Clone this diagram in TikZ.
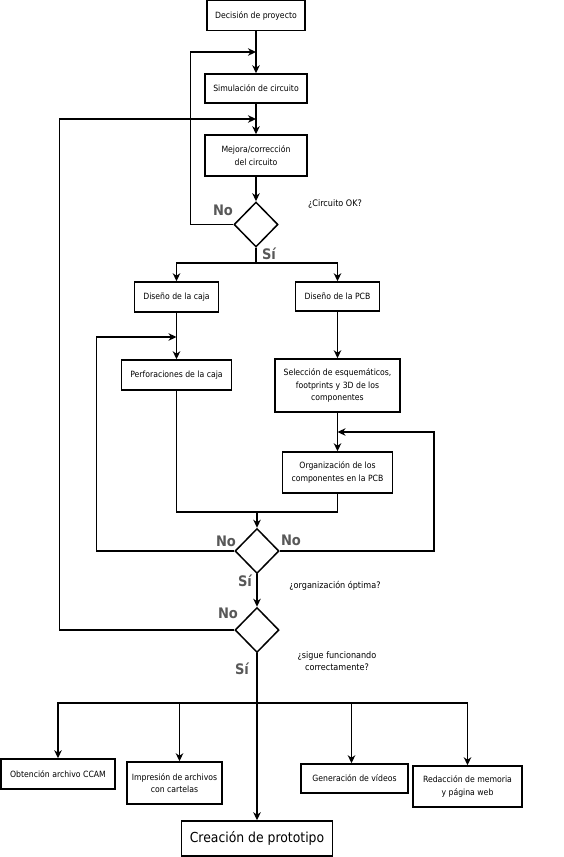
\documentclass[tikz,border=0pt]{standalone}
\usepackage{fontspec}
\setmainfont{DejaVu Sans Condensed}
\usetikzlibrary{shapes,arrows.meta}
\definecolor{grisetiq}{RGB}{88,88,88}
\tikzstyle{every picture}=[x=1pt, y=-1pt, >={Stealth[length=8pt,width=7.5pt,inset=2.5pt]}, line width=1.5pt]
\tikzstyle{caja}=[draw, rectangle, align=center, inner sep=2pt,%
	font=\fontsize{8.6}{12.3}\selectfont]
\tikzstyle{rombo}=[draw, diamond, inner sep=0pt, minimum width=44pt, minimum height=45pt]
\tikzstyle{sino}=[text=grisetiq, inner sep=0pt, font=\bfseries\fontsize{14.5}{14.5}\selectfont]
\tikzstyle{pregunta}=[align=center, inner sep=0pt, font=\fontsize{9}{12.5}\selectfont]

\begin{document}
\begin{tikzpicture}
	\useasboundingbox (0,0) rectangle (563,857);
	% columna principal
	\node[caja, minimum width=98pt, minimum height=30pt] (decision) at (256,15.5) {Decisión de proyecto};
	\node[caja, minimum width=102pt, minimum height=29pt] (simulacion) at (256,88.5) {Simulación de circuito};
	\node[caja, minimum width=102pt, minimum height=41pt] (mejora) at (256,155.5) {Mejora/corrección\\del circuito};
	\node[rombo] (d1) at (256,224.5) {};
	% ramas caja y PCB
	\node[caja, minimum width=84pt, minimum height=30pt] (cajadis) at (176.5,297) {Diseño de la caja};
	\node[caja, minimum width=84pt, minimum height=29pt] (pcbdis) at (337.5,296.5) {Diseño de la PCB};
	\node[caja, minimum width=110pt, minimum height=30pt] (perf) at (176.5,375) {Perforaciones de la caja};
	\node[caja, minimum width=125pt, minimum height=53pt] (sel) at (337.5,385.5) {Selección de esquemáticos,\\footprints y 3D de los\\componentes};
	\node[caja, minimum width=110pt, minimum height=41pt] (org) at (337.5,472.5) {Organización de los\\componentes en la PCB};
	\node[rombo] (d2) at (257,551) {};
	\node[rombo] (d3) at (257,630) {};
	% tareas finales
	\node[caja, minimum width=114pt, minimum height=30pt] (obtencion) at (58,774) {Obtención archivo CCAM};
	\node[caja, minimum width=95pt, minimum height=42pt] (impresion) at (174.5,783) {Impresión de archivos\\con cartelas};
	\node[caja, minimum width=107pt, minimum height=29pt] (videos) at (354.5,778.5) {Generación de vídeos};
	\node[caja, minimum width=109pt, minimum height=41pt] (memoria) at (467.5,786.5) {Redacción de memoria\\y página web};
	\node[caja, minimum width=151pt, minimum height=35pt, font=\fontsize{13.8}{15}\selectfont] (creacion) at (257,838.5) {Creación de prototipo};
	% preguntas y respuestas
	\node[pregunta] (q1) at (335,204) {¿Circuito OK?};
	\node[pregunta] (q2) at (335,586) {¿organización óptima?};
	\node[pregunta] (q3) at (337,661) {¿sigue funcionando\\correctamente?};
	\node[sino] (no1) at (223,210) {No};
	\node[sino] (si1) at (269,254) {Sí};
	\node[sino] (no2) at (226,541) {No};
	\node[sino] (no3) at (291,540) {No};
	\node[sino] (si2) at (245,581) {Sí};
	\node[sino] (no4) at (228,613) {No};
	\node[sino] (si3) at (242,669) {Sí};
	% puntos de union
	\coordinate (jsim) at (256,52);
	\coordinate (jmej) at (256,119);
	\coordinate (bif1) at (256,263);
	\coordinate (jperf) at (176.5,337);
	\coordinate (jorg) at (337.5,432);
	\coordinate (union) at (257,512);
	\coordinate (bif2) at (257,703);
	% conexiones
	\draw[->] (decision) -- (simulacion);
	\draw[->] (simulacion) -- (mejora);
	\draw[->] (mejora) -- (d1);
	\draw[->] (d1.west) -- ++(-43,0) |- (jsim);
	\draw[->] (d3.west) -- ++(-175,0) |- (jmej);
	\draw (d1.south) -- (bif1);
	\draw[->] (bif1) -| (cajadis.north);
	\draw[->] (bif1) -| (pcbdis.north);
	\draw[->] (cajadis) -- (perf);
	\draw[->] (pcbdis) -- (sel);
	\draw[->] (sel) -- (org);
	\draw[->] (d2.west) -- ++(-138,0) |- (jperf);
	\draw[->] (d2.east) -- ++(154,0) |- (jorg);
	\draw (perf.south) |- (union);
	\draw (org.south) |- (union);
	\draw[->] (union) -- (d2.north);
	\draw[->] (d2) -- (d3);
	\draw[->] (d3.south) -- (creacion.north);
	\draw[->] (bif2) -| (obtencion.north);
	\draw[->] (bif2) -| ([xshift=5pt]impresion.north);
	\draw[->] (bif2) -| ([xshift=-3pt]videos.north);
	\draw[->] (bif2) -| (memoria.north);
\end{tikzpicture}
\end{document}
